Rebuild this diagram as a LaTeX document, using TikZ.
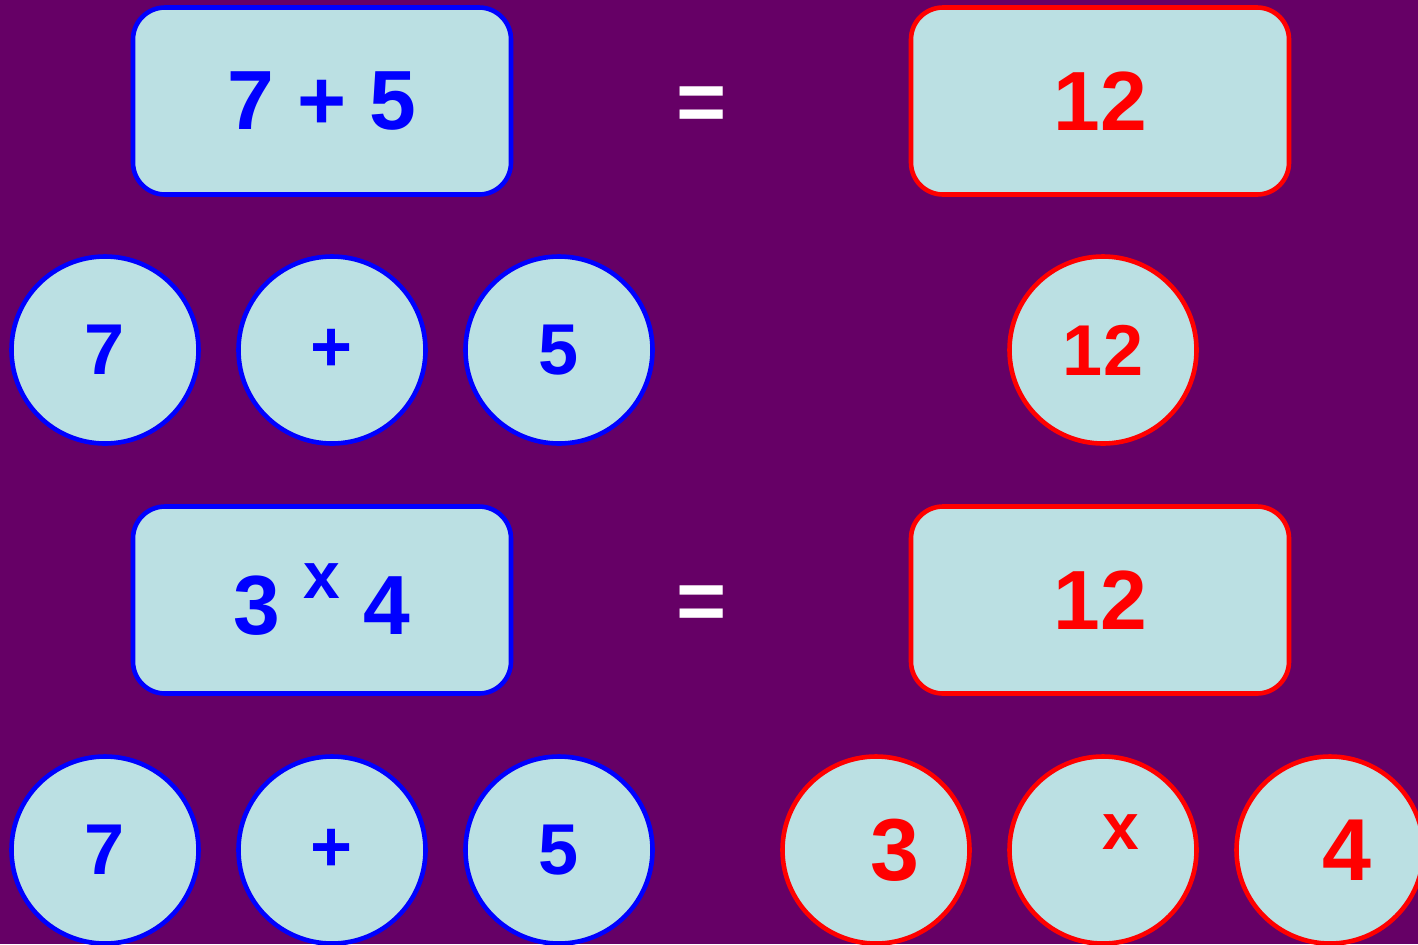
\documentclass[tikz,border=0pt]{standalone}
\usepackage{fontspec}
\setmainfont{Liberation Sans}
\usepackage{tikz}
\usepackage{xcolor}
\definecolor{plum}{HTML}{660066}
\definecolor{pale}{HTML}{BBE0E3}
\tikzset{
    sum-box/.style = {draw=blue, fill=pale, line width=2.3pt, rectangle, rounded corners=16pt, minimum width=189pt, minimum height=93.5pt, inner sep=0pt, text=blue, font=\bfseries\fontsize{42}{48}\selectfont},
    result-box/.style = {sum-box, draw=red, text=red},
    term-disc/.style = {draw=blue, fill=pale, line width=2.3pt, circle, minimum size=93.5pt, inner sep=0pt, text=blue, font=\bfseries\fontsize{36}{42}\selectfont},
    answer-disc/.style = {term-disc, draw=red, text=red},
    equals-sign/.style = {text=white, yshift=-4pt, font=\bfseries\fontsize{43}{48}\selectfont},
}

\begin{document}
\begin{tikzpicture}[x=0.5pt, y=-0.5pt]
\fill[plum] (0,0) rectangle (1418,944);
\useasboundingbox (0,0) rectangle (1418,944);
\clip (0,0) rectangle (1418,944);

\node [sum-box] (sumA) at (322,101) {7 + 5};
\node [equals-sign] (eqA) at (702,101) {=};
\node [result-box] (resA) at (1100,101) {12};

\node [term-disc] (a1) at (105,350) {7};
\node [term-disc] (a2) at (332,350) {\raisebox{-1pt}{+}};
\node [term-disc] (a3) at (559,350) {5};
\node [answer-disc] (r1) at (1103,350) {12};

\node [sum-box, yshift=0pt] (sumB) at (322,600) {3 \raisebox{18pt}{\fontsize{33}{36}\selectfont x} 4};
\node [equals-sign] (eqB) at (702,600) {=};
\node [result-box] (resB) at (1100,600) {12};

\node [term-disc] (b1) at (105,850) {7};
\node [term-disc] (b2) at (332,850) {\raisebox{-1pt}{+}};
\node [term-disc] (b3) at (559,850) {5};
\node [answer-disc, label={[xshift=9.5pt, text=red, font=\bfseries\fontsize{44}{50}\selectfont]center:3}] (f1) at (876,850) {};
\node [answer-disc, label={[xshift=9pt, yshift=9pt, text=red, font=\bfseries\fontsize{33}{36}\selectfont]center:x}] (f2) at (1103,850) {};
\node [answer-disc, label={[xshift=8.5pt, text=red, font=\bfseries\fontsize{44}{50}\selectfont]center:4}] (f3) at (1330,850) {};
\end{tikzpicture}
\end{document}
